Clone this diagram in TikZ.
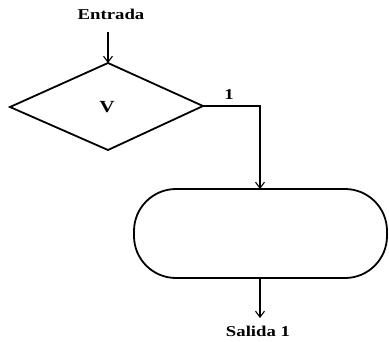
\documentclass[tikz,border=0pt]{standalone}
\usepackage{fontspec}
\setmainfont{Liberation Serif}
\usetikzlibrary{shapes.geometric,arrows.meta}
\begin{document}
\begin{tikzpicture}[x=1pt,y=-1pt,
  shapeline/.style={draw=black,line width=1.8pt},
  conn/.style={draw=black,line width=1.1pt},
  arr/.style={conn,-{Straight Barb[length=6pt,width=9pt,line width=1.1pt]}},
  lbl/.style={font=\fontsize{15}{17}\selectfont\bfseries,inner sep=0pt,xscale=1.25}]
\useasboundingbox (0,0) rectangle (389,341);
\node[lbl] (entrada) at (111,14) {Entrada};
\coordinate (L) at (10,107);
\coordinate (T) at (108,63);
\coordinate (R) at (203,106);
\coordinate (B) at (108,150);
\draw[shapeline,line join=miter] (L) -- (T) -- (R) -- (B) -- cycle;
\node[lbl,font=\fontsize{17}{19}\selectfont\bfseries] (v) at (107,107) {V};
\node[lbl] (one) at (229,95) {1};
\draw[shapeline,rounded corners=42pt] (134,189) rectangle (387,278);
\coordinate (boxtop) at (260,189);
\coordinate (boxbot) at (260,278);
\coordinate (bend) at (260,106);
\coordinate (etop) at (108,32);
\coordinate (send) at (260,318);
\node[lbl] (salida) at (258,331) {Salida 1};
\draw[arr] (etop) -- (T);
\draw[arr] (R) -- (bend) -- (boxtop);
\draw[arr] (boxbot) -- (send);
\end{tikzpicture}
\end{document}
